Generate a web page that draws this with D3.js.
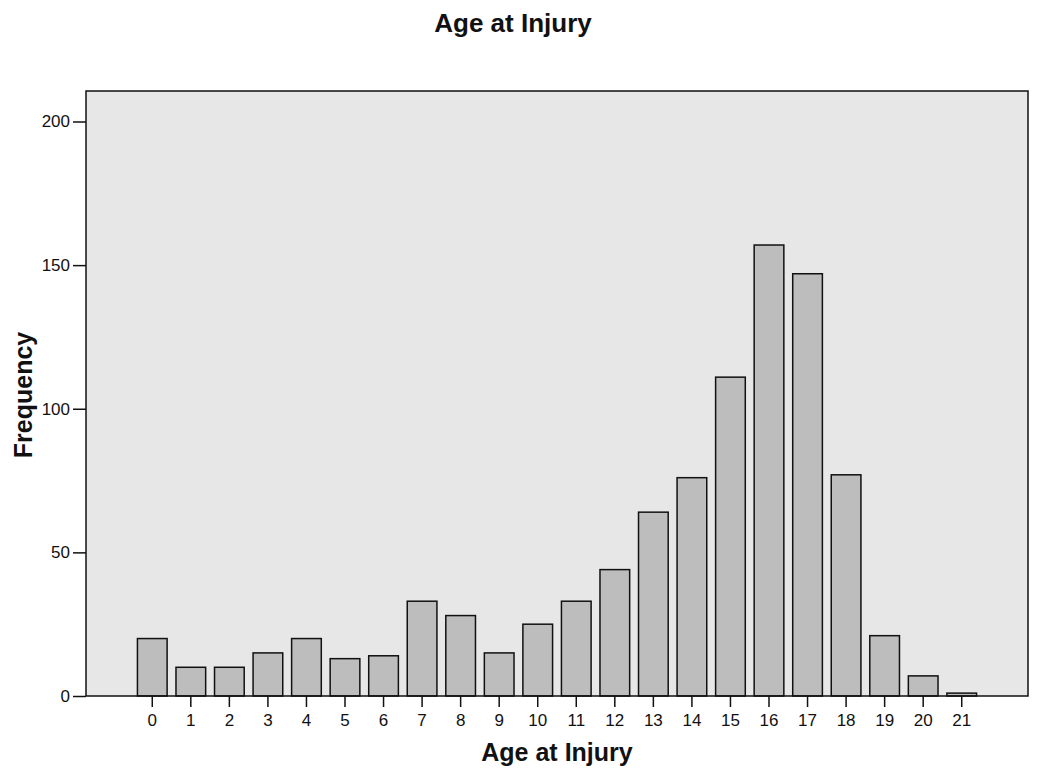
<!DOCTYPE html>
<html><head><meta charset="utf-8">
<script src="https://cdn.jsdelivr.net/npm/d3@7"></script>
<style>body{margin:0;background:#fff;} text{font-family:"Liberation Sans",Arial,sans-serif;}</style>
</head><body>
<svg id="c" width="1050" height="776"></svg>
<script>
const ages = ["0","1","2","3","4","5","6","7","8","9","10","11","12","13","14","15","16","17","18","19","20","21"];
const frequency = [20,10,10,15,20,13,14,33,28,15,25,33,44,64,76,111,157,147,77,21,7,1];
const yTicks = [0,50,100,150,200];
const title = "Age at Injury";
const xLabel = "Age at Injury";
const yLabel = "Frequency";

const svg = d3.select("#c");
const L = 86, R = 1028, T = 91, B = 696;
const x = d3.scaleBand().domain(ages).range([133, 981]).paddingInner(0.23).paddingOuter(0.115);
const y = d3.scaleLinear().domain([0, 200]).range([B, 121.5]);

svg.append("rect").attr("x", L).attr("y", T).attr("width", R - L).attr("height", B - T)
  .attr("fill", "#e7e7e7").attr("stroke", "none");

svg.selectAll(".bar").data(frequency).enter().append("rect")
  .attr("x", (d, i) => x(ages[i]))
  .attr("y", d => y(d))
  .attr("width", x.bandwidth())
  .attr("height", d => B - y(d))
  .attr("fill", "#bdbdbd").attr("stroke", "#111").attr("stroke-width", 1.5);

svg.append("rect").attr("x", L).attr("y", T).attr("width", R - L).attr("height", B - T)
  .attr("fill", "none").attr("stroke", "#111").attr("stroke-width", 1.5);

const yAxis = svg.append("g").attr("transform", `translate(${L},0)`)
  .call(d3.axisLeft(y).tickValues(yTicks).tickSize(13).tickPadding(3).tickFormat(d3.format("d")));
yAxis.select(".domain").remove();
yAxis.selectAll("line").attr("stroke", "#111").attr("stroke-width", 1.5);
yAxis.selectAll("text").attr("font-size", 17).attr("fill", "#111");

const xAxis = svg.append("g").attr("transform", `translate(0,${B})`)
  .call(d3.axisBottom(x).tickSize(11).tickPadding(7));
xAxis.select(".domain").remove();
xAxis.selectAll("line").attr("stroke", "#111").attr("stroke-width", 1.5);
xAxis.selectAll("text").attr("font-size", 17).attr("fill", "#111");

svg.append("text").attr("x", 513).attr("y", 32).attr("text-anchor", "middle")
  .attr("font-size", 26).attr("font-weight", "bold").attr("fill", "#111").text(title);
svg.append("text").attr("x", 557).attr("y", 761).attr("text-anchor", "middle")
  .attr("font-size", 25).attr("font-weight", "bold").attr("fill", "#111").text(xLabel);
svg.append("text").attr("transform", "translate(32,395) rotate(-90)").attr("text-anchor", "middle")
  .attr("font-size", 25).attr("font-weight", "bold").attr("fill", "#111").text(yLabel);
</script>
</body></html>
